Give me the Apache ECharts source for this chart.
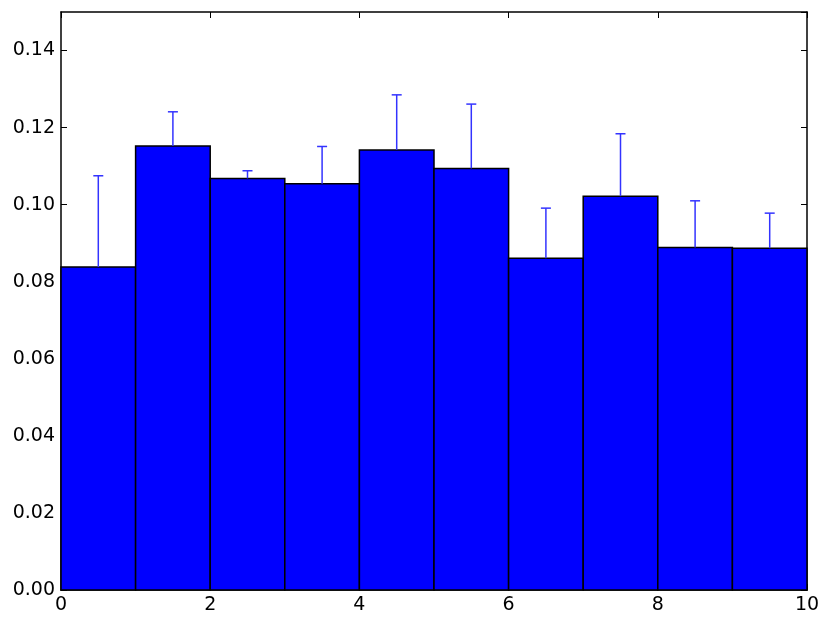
<!DOCTYPE html>
<html><head><meta charset="utf-8">
<script src="https://cdn.jsdelivr.net/npm/echarts@6/dist/echarts.min.js"></script>
<style>html,body{margin:0;padding:0;background:#fff}#c{width:830px;height:628px}</style>
</head><body><div id="c"></div>
<script>
var binStarts = [0,1,2,3,4,5,6,7,8,9];
var binWidth = 1;
var values = [0.0838,0.1152,0.1068,0.1054,0.1142,0.1094,0.0861,0.1022,0.0889,0.0887];
var errorTops = [0.1075,0.1241,0.1088,0.1151,0.1285,0.1261,0.0991,0.1184,0.1010,0.0978];
var xTicks = [0,2,4,6,8,10];
var yTicks = [0,0.02,0.04,0.06,0.08,0.10,0.12,0.14];

var chart = echarts.init(document.getElementById('c'), null, {renderer:'canvas'});
var font = 'DejaVu Sans';
var barData = binStarts.map(function(s,i){return [s, s+binWidth, values[i]];});
var errData = binStarts.map(function(s,i){return [s+binWidth/2, values[i], errorTops[i]];});
function commonAxis(){
  return {
    axisLine:{show:true, onZero:false, lineStyle:{color:'#000', width:1.5}},
    axisTick:{show:true, inside:true, length:6, lineStyle:{color:'#000', width:1}},
    splitLine:{show:false}
  };
}
chart.setOption({
  animation:false,
  grid:{left:61, right:23, top:12, bottom:38, containLabel:false},
  xAxis:[
    Object.assign({type:'value', min:0, max:10, interval:2, position:'bottom',
      axisLabel:{color:'#000', fontFamily:font, fontSize:19, margin:6,
        formatter:function(v){return String(v);}}}, commonAxis()),
    Object.assign({type:'value', min:0, max:10, interval:2, position:'top',
      axisLabel:{show:false}}, commonAxis())
  ],
  yAxis:[
    Object.assign({type:'value', min:0, max:0.15, interval:0.02, position:'left',
      axisLabel:{color:'#000', fontFamily:font, fontSize:19, margin:6,
        showMaxLabel:false,
        formatter:function(v){return v.toFixed(2);}}}, commonAxis()),
    Object.assign({type:'value', min:0, max:0.15, interval:0.02, position:'right',
      axisLabel:{show:false}}, commonAxis())
  ],
  series:[
    {type:'custom', xAxisIndex:0, yAxisIndex:0, data:barData,
     renderItem:function(params, api){
       var p0 = api.coord([api.value(0), api.value(2)]);
       var p1 = api.coord([api.value(1), 0]);
       return {type:'rect', shape:{x:p0[0], y:p0[1], width:p1[0]-p0[0], height:p1[1]-p0[1]},
         style:{fill:'#0000ff', stroke:'#000', lineWidth:1.5}};
     }},
    {type:'custom', xAxisIndex:0, yAxisIndex:0, data:errData, z:3,
     renderItem:function(params, api){
       var b = api.coord([api.value(0), api.value(1)]);
       var t = api.coord([api.value(0), api.value(2)]);
       var hw = 5;
       return {type:'group', children:[
         {type:'line', shape:{x1:b[0], y1:b[1], x2:t[0], y2:t[1]}, style:{stroke:'#3333ff', lineWidth:1.5}},
         {type:'line', shape:{x1:t[0]-hw, y1:t[1], x2:t[0]+hw, y2:t[1]}, style:{stroke:'#3333ff', lineWidth:1.5}}
       ]};
     }}
  ]
});
</script></body></html>
